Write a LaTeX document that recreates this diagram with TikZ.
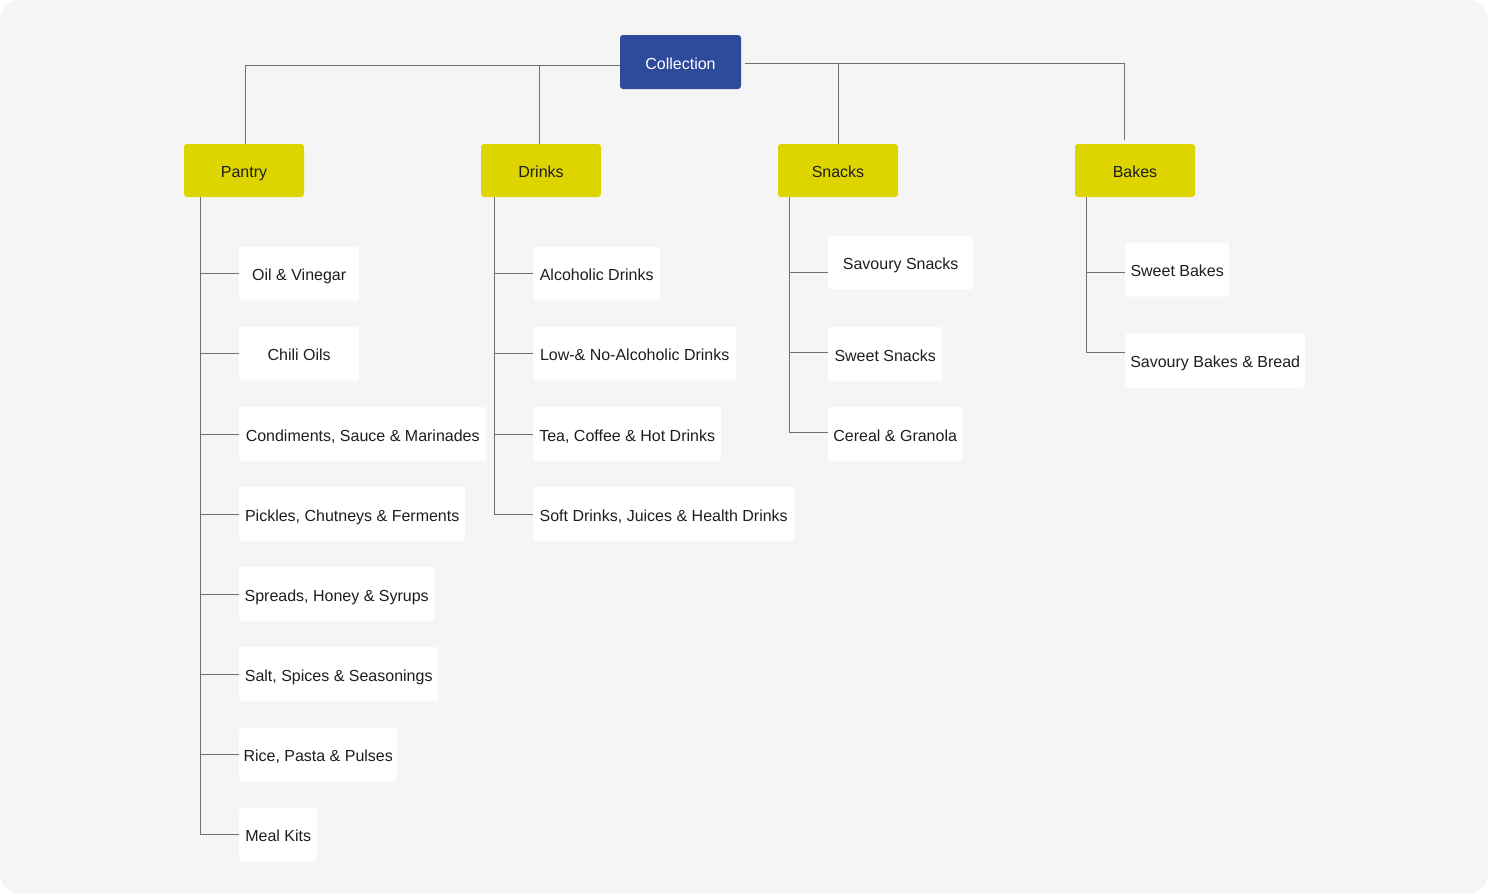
\documentclass[tikz,border=0pt]{standalone}
\usepackage{fontspec}
\setmainfont{Liberation Sans}
\usepackage{tikz}
\usetikzlibrary{positioning}
\definecolor{bgray}{RGB}{245,245,245}
\definecolor{rootblue}{RGB}{46,74,155}
\definecolor{catyellow}{RGB}{222,213,0}
\definecolor{linkgray}{RGB}{112,112,112}
\definecolor{ink}{RGB}{30,30,30}
\tikzset{x=1pt, y=-1pt,
         every node/.style={font=\fontsize{16}{19}\selectfont, text=ink,
                            text height=14pt, text depth=0pt},
         root/.style={fill=rootblue, text=white, rounded corners=3pt,
                      minimum width=121pt, minimum height=54pt},
         cat/.style={fill=catyellow, rounded corners=3pt,
                     minimum width=120pt, minimum height=53pt},
         leaf/.style={fill=white, rounded corners=3pt, anchor=west,
                      inner xsep=4pt, minimum height=54pt},
         link/.style={draw=linkgray, line width=1pt},
         }

\begin{document}
\begin{tikzpicture}
    \useasboundingbox (0,0) rectangle (1488,894);
    \fill[bgray, rounded corners=20pt] (0,0) rectangle (1488,894);

    \node[root] (coll) at (680.5,62) {Collection};
    \node[cat] (pantry) at (244,170.5) {Pantry};
    \node[cat] (drinks) at (541,170.5) {Drinks};
    \node[cat] (snacks) at (838,170.5) {Snacks};
    \node[cat] (bakes) at (1135,170.5) {Bakes};

    % pantry
    \node[leaf, minimum width=120pt] (oil) at (239,273.5) {Oil \& Vinegar};
    \node[leaf, minimum width=120pt] (chili) at (239,353.5) {Chili Oils};
    \node[leaf, minimum width=247pt] (cond) at (239,434) {Condiments, Sauce \& Marinades};
    \node[leaf, minimum width=226pt] (pickle) at (239,514) {Pickles, Chutneys \& Ferments};
    \node[leaf, minimum width=195pt] (spread) at (239,594) {Spreads, Honey \& Syrups};
    \node[leaf, minimum width=199pt] (salt) at (239,674) {Salt, Spices \& Seasonings};
    \node[leaf, minimum width=158pt] (rice) at (239,754.5) {Rice, Pasta \& Pulses};
    \node[leaf, minimum width=78pt] (meal) at (239,834.5) {Meal Kits};

    % drinks
    \node[leaf, minimum width=127pt] (alc) at (533,273.5) {Alcoholic Drinks};
    \node[leaf, minimum width=203pt] (lowalc) at (533,353.5) {Low-\& No-Alcoholic Drinks};
    \node[leaf, minimum width=188pt] (tea) at (533,434) {Tea, Coffee \& Hot Drinks};
    \node[leaf, minimum width=261pt] (soft) at (533,514) {Soft Drinks, Juices \& Health Drinks};

    % snacks
    \node[leaf, minimum width=145pt] (savsn) at (828,262.5) {Savoury Snacks};
    \node[leaf, minimum width=114pt] (swsn) at (828,354) {Sweet Snacks};
    \node[leaf, minimum width=134pt] (cereal) at (828,434) {Cereal \& Granola};

    % bakes
    \node[leaf, minimum width=104pt] (swbake) at (1125,269.5) {Sweet Bakes};
    \node[leaf, minimum width=180pt] (savbake) at (1125,360.5) {Savoury Bakes \& Bread};

    % top level links
    \coordinate (dj) at (539,65);
    \coordinate (sj) at (838,63);
    \draw[link] ([yshift=-3pt]coll.west) -| ([xshift=1pt]pantry.north);
    \draw[link] (dj) -- (dj |- drinks.north);
    \draw[link] ([xshift=4pt,yshift=-1pt]coll.east) -| ([xshift=-11pt,yshift=4pt]bakes.north);
    \draw[link] (sj) -- (snacks.north);

    % trunks
    \coordinate (ptrunk) at (200,197);
    \coordinate (dtrunk) at (494,197);
    \coordinate (strunk) at (789,197);
    \coordinate (btrunk) at (1086,197);

    \draw[link] (ptrunk) |- ([yshift=0.5pt]meal.west);
    \foreach \n in {oil,chili,cond,pickle,spread,salt,rice}
        \draw[link] (ptrunk |- \n.west) -- (\n.west);

    \draw[link] (dtrunk) |- (soft.west);
    \foreach \n in {alc,lowalc,tea}
        \draw[link] (dtrunk |- \n.west) -- (\n.west);

    \draw[link] (strunk) |- ([yshift=2pt]cereal.west);
    \draw[link] ([yshift=-9.5pt]savsn.west -| strunk) -- ([yshift=-9.5pt]savsn.west);
    \draw[link] ([yshift=2pt]swsn.west -| strunk) -- ([yshift=2pt]swsn.west);

    \draw[link] (btrunk) |- ([yshift=8.5pt]savbake.west);
    \draw[link] ([yshift=-2.5pt]swbake.west -| btrunk) -- ([yshift=-2.5pt]swbake.west);
\end{tikzpicture}
\end{document}
